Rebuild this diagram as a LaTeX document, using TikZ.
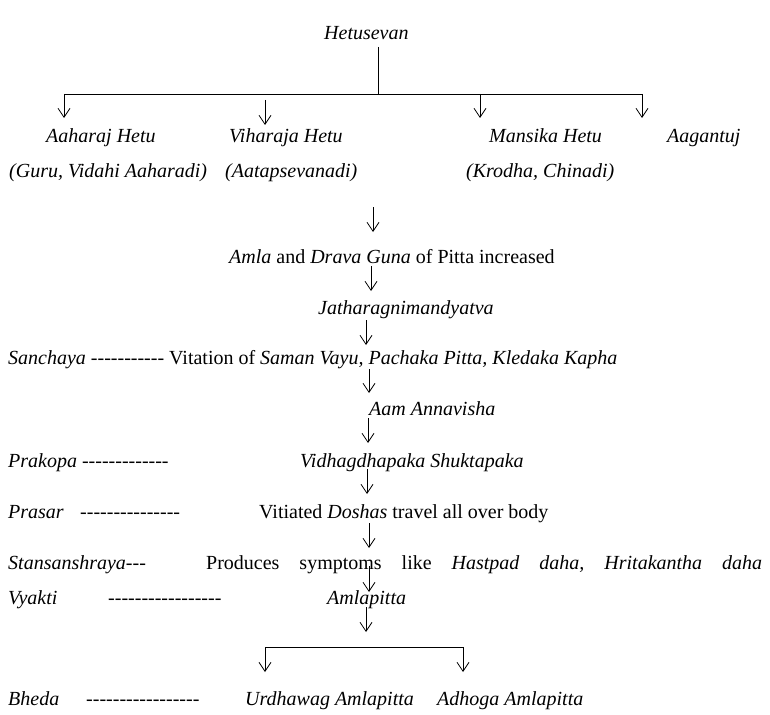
\documentclass[tikz,border=0pt]{standalone}
\usepackage{fontspec}
\setmainfont{Liberation Serif}[Ligatures=TeXOff]
\usetikzlibrary{arrows.meta}
\begin{document}
\begin{tikzpicture}[x=1pt,y=-1pt,
  txt/.style={anchor=base west,inner sep=0pt,font=\fontsize{20}{24}\selectfont},
  arr/.style={line width=0.8pt,-{Straight Barb[length=9pt,width=12pt,line width=0.8pt]}},
  ln/.style={line width=0.8pt}]
\useasboundingbox (0,0) rectangle (770,714);
% texts
\node[txt] (het) at (324,40) {\textit{Hetusevan}};
\node[txt] (aah) at (46,143) {\textit{Aaharaj Hetu}};
\node[txt] (vih) at (229,143) {\textit{Viharaja Hetu}};
\node[txt] (man) at (489,143) {\textit{Mansika Hetu}};
\node[txt] (aag) at (667,143) {\textit{Aagantuj}};
\node[txt] (guru) at (9,177) {\textit{(Guru, Vidahi Aaharadi)}};
\node[txt] (aat) at (225,177) {\textit{(Aatapsevanadi)}};
\node[txt] (kro) at (466,177) {\textit{(Krodha, Chinadi)}};
\node[txt] (amla) at (229,263) {\textit{Amla} and \textit{Drava Guna} of Pitta increased};
\node[txt] (jat) at (318,314) {\textit{Jatharagnimandyatva}};
\node[txt] (san) at (8,364) {\textit{Sanchaya} ----------- Vitation of \textit{Saman Vayu, Pachaka Pitta, Kledaka Kapha}};
\node[txt] (aam) at (369,415) {\textit{Aam Annavisha}};
\node[txt] (pra) at (8,467) {\textit{Prakopa} -------------};
\node[txt] (vid) at (300,467) {\textit{Vidhagdhapaka Shuktapaka}};
\node[txt] (pras) at (8,518) {\textit{Prasar}};
\node[txt] (prasd) at (80,518) {---------------};
\node[txt] (vit) at (259,518) {Vitiated \textit{Doshas} travel all over body};
\node[txt] (sta) at (8,569) {\textit{Stansanshraya}---};
\node[txt] (pro) at (206,569) {\hbox to 556pt{Produces\hfill symptoms\hfill like\hfill \textit{Hastpad}\hfill \textit{daha,}\hfill \textit{Hritakantha}\hfill \textit{daha}}};
\node[txt] (vya) at (8,604) {\textit{Vyakti}};
\node[txt] (vyad) at (108,604) {-----------------};
\node[txt] (amp) at (327,604) {\textit{Amlapitta}};
\node[txt] (bhe) at (8,705) {\textit{Bheda}};
\node[txt] (bhed) at (86,705) {-----------------};
\node[txt] (urd) at (245,705) {\textit{Urdhawag Amlapitta}};
\node[txt] (adh) at (437,705) {\textit{Adhoga Amlapitta}};
% top tree
\coordinate (t1) at (378,47);
\coordinate (t2) at (378,94);
\coordinate (busL) at (64,94);
\coordinate (busR) at (642,94);
\coordinate (busM) at (480,94);
\draw[ln] (t1) -- (t2);
\draw[ln] (busL) -- (busR);
\coordinate (eA) at (64,118);
\coordinate (eM) at (480,118);
\coordinate (eG) at (642,118);
\coordinate (sV) at (265,100);
\coordinate (eV) at (265,125);
\draw[arr] (busL) -- (eA);
\draw[arr] (busM) -- (eM);
\draw[arr] (busR) -- (eG);
\draw[arr] (sV) -- (eV);
% chain arrows
\coordinate (a1s) at (373,207); \coordinate (a1e) at (373,232);
\coordinate (a2s) at (371,266); \coordinate (a2e) at (371,291);
\coordinate (a3s) at (366,320); \coordinate (a3e) at (366,345);
\coordinate (a4s) at (369,369); \coordinate (a4e) at (369,393);
\coordinate (a5s) at (368,418); \coordinate (a5e) at (368,443);
\coordinate (a6s) at (367,469); \coordinate (a6e) at (367,494);
\coordinate (a7s) at (369,523); \coordinate (a7e) at (369,548);
\coordinate (a8s) at (369,566); \coordinate (a8e) at (369,592);
\coordinate (a9s) at (366,607); \coordinate (a9e) at (366,632);
\foreach \i in {1,...,9} {\draw[arr] (a\i s) -- (a\i e);}
% bottom fork
\coordinate (fL) at (265,647);
\coordinate (fR) at (463,647);
\coordinate (fLe) at (265,672);
\coordinate (fRe) at (463,672);
\draw[ln] (fL) -- (fR);
\draw[arr] (fL) -- (fLe);
\draw[arr] (fR) -- (fRe);
\end{tikzpicture}
\end{document}
